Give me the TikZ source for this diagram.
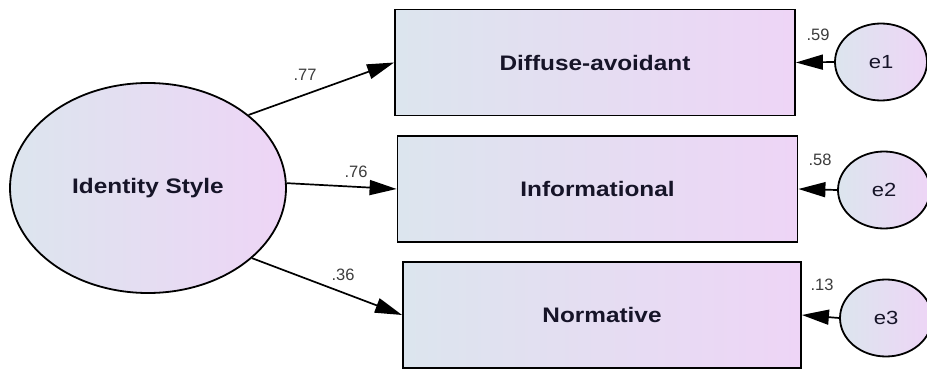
\documentclass[tikz,border=0pt]{standalone}
\usepackage{fontspec}
\setmainfont{Liberation Sans}
\newfontfamily\wide[FakeStretch=1.16]{Liberation Sans}
\usetikzlibrary{shapes.geometric,arrows.meta}
\definecolor{shadeL}{RGB}{220,229,238}
\definecolor{shadeR}{RGB}{238,213,246}
\definecolor{ink}{RGB}{22,20,40}
\definecolor{coefgray}{RGB}{60,60,60}

\begin{document}
\begin{tikzpicture}[x=1pt,y=-1pt,
    every node/.style={text=ink},
    lat/.style={ellipse,draw,line width=1.8pt,left color=shadeL,right color=shadeR,
      minimum width=276pt,minimum height=210pt,font=\wide\bfseries\fontsize{21}{25}\selectfont},
    obs/.style={rectangle,draw,line width=1.8pt,left color=shadeL,right color=shadeR,
      minimum width=400pt,minimum height=106pt,font=\wide\bfseries\fontsize{21}{25}\selectfont},
    err/.style={ellipse,draw,line width=1.8pt,left color=shadeL,right color=shadeR,
      minimum width=92pt,minimum height=77pt,font=\wide\fontsize{19}{23}\selectfont},
    effect/.style={-{Triangle[length=27pt,width=15pt]},line width=1.7pt},
    coeff/.style={text=coefgray,font=\fontsize{16.5}{19}\selectfont}]
    \useasboundingbox (0,0) rectangle (927,369);
    \node[lat] (ident) at (148,188) {Identity Style};
    \node[obs] (diff) at (595,62.5) {Diffuse-avoidant};
    \node[obs] (info) at (597.5,189) {Informational};
    \node[obs,minimum width=398pt] (norm) at (602,315) {Normative};
    \node[err] (e1) at (881,62) {e1};
    \node[err] (e2) at (884,190) {e2};
    \node[err] (e3) at (886,318) {e3};
    \draw[effect] (ident.36) -- (diff.west);
    \draw[effect] (ident.2) -- (info.west);
    \draw[effect] (ident.-34) -- (norm.west);
    \draw[effect] (e1.west) -- (diff.east);
    \draw[effect] (e2.west) -- (info.east);
    \draw[effect] (e3.west) -- (norm.east);
    \node[coeff] (c77) at (305,75) {.77};
    \node[coeff] (c76) at (356,172) {.76};
    \node[coeff] (c36) at (343,275) {.36};
    \node[coeff] (c59) at (818,35) {.59};
    \node[coeff] (c58) at (820,160) {.58};
    \node[coeff] (c13) at (822,285) {.13};
\end{tikzpicture}
\end{document}
